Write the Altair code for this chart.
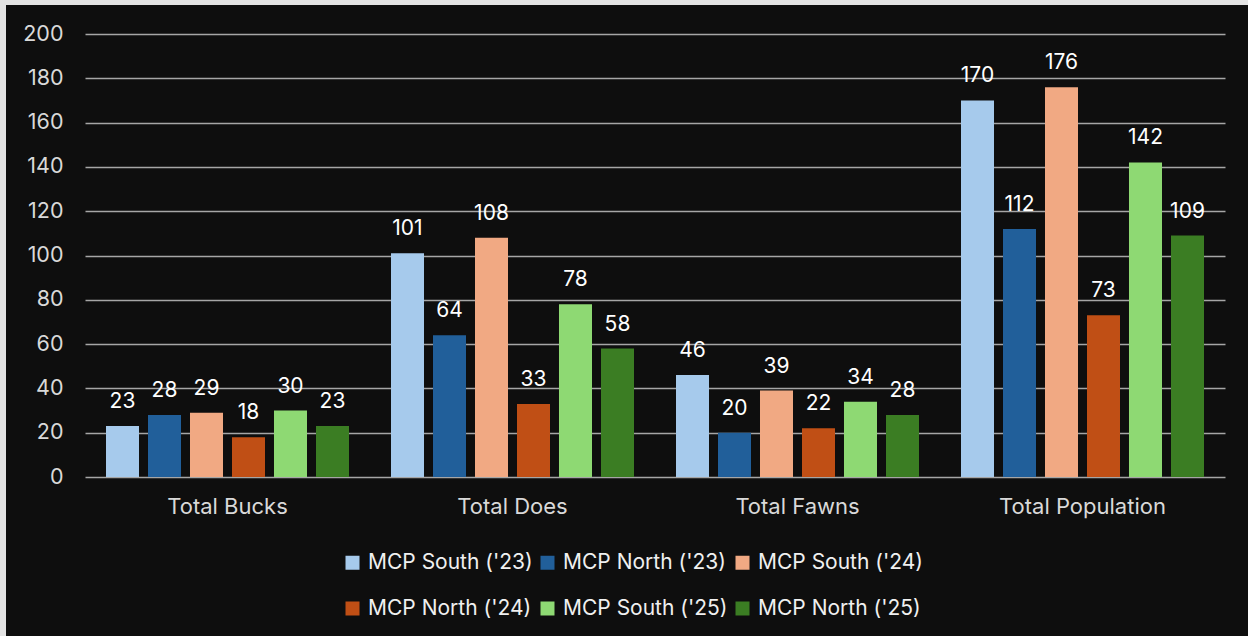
import altair as alt
import pandas as pd

categories = ["Total Bucks", "Total Does", "Total Fawns", "Total Population"]
series = ["MCP South ('23)", "MCP North ('23)", "MCP South ('24)",
          "MCP North ('24)", "MCP South ('25)", "MCP North ('25)"]
colors = ["#A6CAEC", "#215F9A", "#F1A983", "#C04F15", "#8ED973", "#3B7D23"]

south_23 = [23, 101, 46, 170]
north_23 = [28, 64, 20, 112]
south_24 = [29, 108, 39, 176]
north_24 = [18, 33, 22, 73]
south_25 = [30, 78, 34, 142]
north_25 = [23, 58, 28, 109]

all_values = [south_23, north_23, south_24, north_24, south_25, north_25]
rows = []
for s, vals in zip(series, all_values):
    for c, v in zip(categories, vals):
        rows.append({"category": c, "series": s, "value": v})
df = pd.DataFrame(rows)

FONT = "Inter"

base = alt.Chart(df).encode(
    x=alt.X("category:N", sort=categories,
            scale=alt.Scale(paddingInner=0, paddingOuter=0),
            axis=alt.Axis(title=None, labelAngle=0, ticks=False, domain=False,
                          labelPadding=19, labelFontSize=22, labelColor="#d9d9d9",
                          labelFont=FONT, grid=False, labelFontWeight="normal")),
    xOffset=alt.XOffset("series:N", sort=series,
                        scale=alt.Scale(paddingInner=0.214, paddingOuter=0.5)),
    y=alt.Y("value:Q", scale=alt.Scale(domain=[0, 200]),
            axis=alt.Axis(values=list(range(0, 201, 20)), title=None, ticks=False,
                          domain=False, labelPadding=22, gridColor="#a6a6a6",
                          gridWidth=1.5, labelFontSize=21.5, labelColor="#d9d9d9",
                          labelFont=FONT)),
)

bars = base.mark_bar().encode(
    color=alt.Color("series:N", sort=series,
                    scale=alt.Scale(domain=series, range=colors),
                    legend=alt.Legend(orient="none", legendX=257, legendY=518,
                                      direction="horizontal", columns=3,
                                      symbolType="square", symbolSize=196,
                                      symbolStrokeWidth=0, labelFontSize=21,
                                      labelColor="#f0f0f0", labelFont=FONT,
                                      labelOffset=5, columnPadding=4,
                                      rowPadding=24, gridAlign="all",
                                      title=None, labelLimit=300))
)

labels = base.mark_text(dy=-18, baseline="alphabetic", fontSize=21,
                        color="#ffffff", font=FONT).encode(text="value:Q")

frame_df = alt.Data(values=[{"k": 1}])
left_strip = alt.Chart(frame_df).mark_rect(color="#e3e3e3").encode(
    x=alt.value(-85), x2=alt.value(-79), y=alt.value(-34), y2=alt.value(602))
top_strip = alt.Chart(frame_df).mark_rect(color="#e3e3e3").encode(
    x=alt.value(-85), x2=alt.value(1163), y=alt.value(-34), y2=alt.value(-29))

chart = alt.layer(bars, labels, left_strip, top_strip).properties(
    width=1140, height=443, background="#0e0e0e",
    padding={"left": 85, "top": 34, "right": 23, "bottom": 159},
    autosize=alt.AutoSizeParams(type="none"),
).configure_view(stroke=None)

chart.save("out.html", embed_options={"renderer": "svg", "actions": False})
